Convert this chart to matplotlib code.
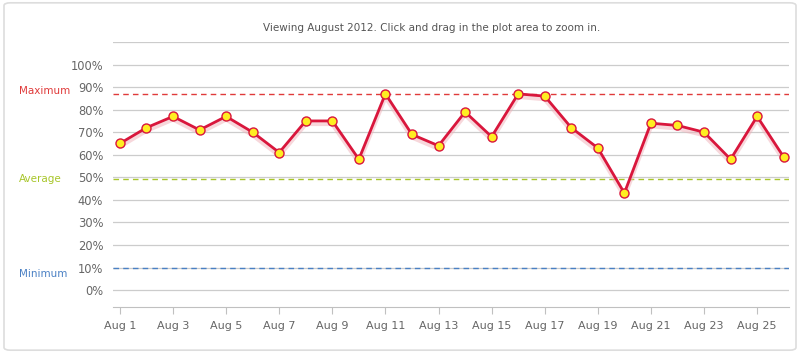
import matplotlib
matplotlib.use("Agg")
import matplotlib.pyplot as plt
from matplotlib.patches import FancyBboxPatch

# daily values for August 2012 (percent)
days = list(range(1, 27))
values = [65, 72, 77, 71, 77, 70, 61, 75, 75, 58, 87, 69, 64,
          79, 68, 87, 86, 72, 63, 43, 74, 73, 70, 58, 77, 59]

# reference lines
ref_names = ["Maximum", "Average", "Minimum"]
ref_values = [87, 49.3, 10]
ref_colors = ["#e03a3a", "#a8c62a", "#4a80c4"]

y_ticks = list(range(0, 101, 10))
y_labels = [f"{t}%" for t in y_ticks]
x_ticks = days[::2]
x_labels = [f"Aug {d}" for d in x_ticks]

fig = plt.figure(figsize=(8, 3.53), dpi=100)
fig.patches.append(FancyBboxPatch((0.005, 0.008), 0.99, 0.984,
                                  boxstyle="round,pad=0,rounding_size=0.008",
                                  transform=fig.transFigure, fc="white",
                                  ec="#dddddd", lw=1.2, zorder=-10))

ax = fig.add_axes([113 / 800, 1 - 307 / 353, 676 / 800, 265 / 353])
ax.set_facecolor("none")
ax.set_ylim(-7.5, 110)
ax.set_xlim(0.74, 26.2)

for t in y_ticks + [110]:
    ax.axhline(t, color="#cccccc", lw=0.9, zorder=1)

for name, val, col in zip(ref_names, ref_values, ref_colors):
    ax.axhline(val, color=col, lw=1, dashes=(4, 3), zorder=2)
    off = 3 if name == "Maximum" else (-6 if name == "Minimum" else 0)
    ax.annotate(name, xy=(19 / 800, val), xycoords=("figure fraction", "data"),
                xytext=(0, off), textcoords="offset pixels",
                color=col, fontsize=7.5, va="center", ha="left")

# soft shadow under the series
ax.plot(days, [v - 1.2 for v in values], color="#f0b0b8", lw=3.5,
        alpha=0.5, zorder=3, solid_joinstyle="round")
ax.plot(days, values, color="#d9163c", lw=2, zorder=4,
        marker="o", markersize=6.5, markerfacecolor="#ffee22",
        markeredgecolor="#d9163c", markeredgewidth=1)

ax.set_yticks(y_ticks)
ax.set_yticklabels(y_labels)
ax.set_xticks(x_ticks)
ax.set_xticklabels(x_labels)
ax.tick_params(axis="y", length=0, pad=7, labelsize=8.3, labelcolor="#666666")
ax.tick_params(axis="x", length=5, color="#c0c0c0", pad=5, labelsize=8,
               labelcolor="#666666")
for s in ["top", "left", "right"]:
    ax.spines[s].set_visible(False)
ax.spines["bottom"].set_color("#c0c0c0")

fig.text(432 / 800, 1 - 28 / 353,
         "Viewing August 2012. Click and drag in the plot area to zoom in.",
         ha="center", va="center", fontsize=7.5, color="#555555")

fig.savefig("out.png", dpi=100)
